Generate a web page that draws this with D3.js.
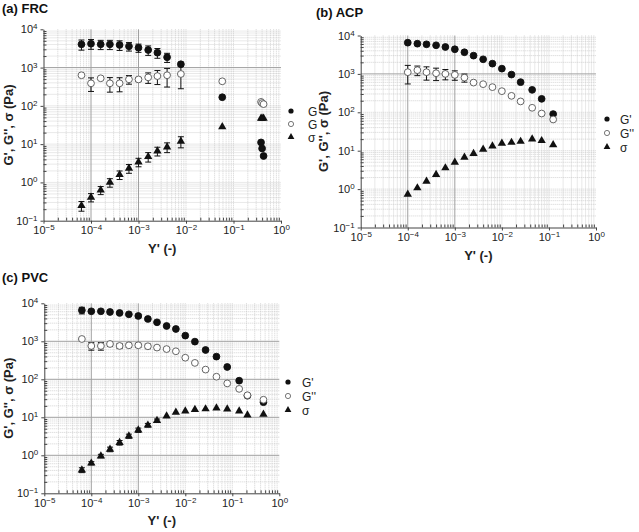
<!DOCTYPE html>
<html><head><meta charset="utf-8">
<script src="https://cdn.jsdelivr.net/npm/d3@7"></script>
<style>
body{margin:0;background:#fff}
svg{display:block;font-family:"Liberation Sans",Arial,sans-serif}
</style>
</head><body>
<svg id="chart" width="639" height="532"></svg>
<script>
// ---------- tick labels ----------
const xTickExps = [-5, -4, -3, -2, -1, 0];
const yTickExps = [-1, 0, 1, 2, 3, 4];
const seriesNames = ["G'", "G''", "σ"];
const seriesNamesClipped = ["G", "G", "σ"];

// ---------- (a) FRC ----------
const frcStrain    = [6.3e-5, 1e-4, 1.6e-4, 2.5e-4, 4e-4, 6.3e-4, 1e-3, 1.6e-3, 2.5e-3, 4e-3, 7.8e-3, 0.058, 0.38, 0.40, 0.43];
const frcGp        = [4050, 4200, 4050, 4050, 3900, 3600, 3300, 2880, 2450, 1860, 1220, 168, 11.1, 7.7, 4.9];
const frcGpErr     = [1200, 1200, 1100, 1100, 1100, 900, 800, 800, 700, 500, 150, 0, 0, 0, 0];
const frcGpp       = [630, 388, 525, 388, 388, 493, 490, 556, 600, 630, 680, 438, 127, 118, 111];
const frcGppErr    = [0, 150, 30, 160, 155, 125, 60, 170, 240, 320, 400, 0, 0, 0, 0];
const frcStress    = [0.247, 0.41, 0.63, 1.0, 1.59, 2.33, 3.41, 4.7, 6.6, 8.4, 11.8, 28.4, 47, 47, 47];
const frcStressErr = [0.07, 0.1, 0.15, 0.25, 0.4, 0.6, 0.85, 1.3, 1.7, 2.4, 3.8, 0, 0, 0, 0];

// ---------- (b) ACP ----------
const acpStrain    = [1e-4, 1.6e-4, 2.5e-4, 4e-4, 6.3e-4, 1e-3, 1.6e-3, 2.5e-3, 4e-3, 6.3e-3, 1e-2, 1.6e-2, 2.5e-2, 4.4e-2, 7e-2, 0.123];
const acpGp        = [6500, 6120, 5900, 5560, 5020, 4380, 3660, 2990, 2400, 1850, 1370, 960, 610, 384, 224, 90];
const acpGpErr     = [0, 0, 0, 0, 0, 0, 0, 0, 0, 0, 0, 0, 0, 0, 0, 0];
const acpGpp       = [1107, 1250, 1107, 1040, 1000, 942, 800, 594, 540, 452, 355, 268, 192, 131, 93, 65];
const acpGppErr    = [560, 350, 420, 370, 300, 260, 190, 0, 0, 0, 0, 0, 0, 0, 0, 0];
const acpStress    = [0.73, 1.07, 1.6, 2.38, 3.55, 4.97, 6.7, 8.4, 10.8, 13.2, 15.5, 16.4, 17.4, 20.1, 18.2, 14.3];
const acpStressErr = [0, 0, 0, 0, 0, 0, 0, 0, 0, 0, 0, 0, 0, 0, 0, 0];

// ---------- (c) PVC ----------
const pvcStrain    = [6.3e-5, 1e-4, 1.6e-4, 2.5e-4, 4e-4, 6.3e-4, 1e-3, 1.6e-3, 2.5e-3, 4e-3, 6.3e-3, 1e-2, 1.6e-2, 2.7e-2, 4.6e-2, 7.8e-2, 0.14, 0.21, 0.46];
const pvcGp        = [6550, 6160, 6160, 5910, 5570, 5130, 4640, 3870, 3160, 2530, 2110, 1410, 980, 591, 395, 211, 92, 37, 25];
const pvcGpErr     = [1300, 400, 300, 300, 300, 300, 500, 300, 0, 0, 0, 0, 0, 0, 0, 0, 0, 0, 0];
const pvcGpp       = [1150, 754, 754, 850, 754, 785, 785, 740, 684, 624, 546, 370, 270, 180, 117, 78, 56, 38, 29];
const pvcGppErr    = [80, 170, 170, 120, 110, 100, 100, 100, 80, 0, 0, 0, 0, 0, 0, 0, 0, 0, 0];
const pvcStress    = [0.41, 0.62, 0.96, 1.44, 2.15, 3.2, 4.6, 6.2, 8.2, 10.8, 13.5, 14.5, 16, 16.6, 17.5, 16.5, 14.5, 11.5, 12];
const pvcStressErr = [0.06, 0.06, 0.1, 0.2, 0.3, 0.4, 0.6, 0.7, 0.8, 0, 0, 0, 0, 0, 0, 0, 0, 0, 0];

const panels = [
  { title: "(a) FRC", titleX: 2, titleY: 13,
    x0: 43.5, x1: 281, y0: 29.3, y1: 220.7,
    ylabX: 13, legX: 291, legTextX: 308, legY: [111, 124, 137], legNames: seriesNamesClipped,
    majorH: [1e3], majorV: [1e-4, 1e-3],
    strain: frcStrain, gp: frcGp, gpE: frcGpErr, gpp: frcGpp, gppE: frcGppErr, s: frcStress, sE: frcStressErr },
  { title: "(b) ACP", titleX: 316, titleY: 17,
    x0: 360.7, x1: 596, y0: 35.5, y1: 227.5,
    ylabX: 328, legX: 607, legTextX: 620, legY: [119, 133, 147], legNames: seriesNames,
    majorH: [1e3], majorV: [1e-4, 1e-3],
    strain: acpStrain, gp: acpGp, gpE: acpGpErr, gpp: acpGpp, gppE: acpGppErr, s: acpStress, sE: acpStressErr },
  { title: "(c) PVC", titleX: 2, titleY: 282,
    x0: 44.3, x1: 279.3, y0: 303.3, y1: 493.3,
    ylabX: 13, legX: 288, legTextX: 302, legY: [382, 396, 410], legNames: seriesNames,
    majorH: [1e3, 1e2, 1e1, 1e0], majorV: [1e-4, 1e-3],
    strain: pvcStrain, gp: pvcGp, gpE: pvcGpErr, gpp: pvcGpp, gppE: pvcGppErr, s: pvcStress, sE: pvcStressErr }
];

const svg = d3.select("#chart");
const INK = "#111";

function minorVals(lo, hi) {
  const out = [];
  for (let k = lo; k < hi; k++) for (let m = 2; m <= 9; m++) out.push(m * Math.pow(10, k));
  return out;
}
function supLabel(sel, exp) {
  sel.text(null);
  sel.append("tspan").text("10");
  sel.append("tspan").attr("dy", "-0.5em").attr("font-size", "8px").text(exp < 0 ? "\u2212" + (-exp) : String(exp));
}

panels.forEach(p => {
  const x = d3.scaleLog().domain([1e-5, 1]).range([p.x0, p.x1]);
  const y = d3.scaleLog().domain([0.1, 1e4]).range([p.y1, p.y0]);
  const g = svg.append("g");

  const xMinor = minorVals(-5, 0);
  const yMinor = minorVals(-1, 4);
  const xMajorAll = xTickExps.map(e => Math.pow(10, e)).filter(v => v > 1e-5 && v < 1);
  const yMajorAll = yTickExps.map(e => Math.pow(10, e)).filter(v => v > 0.1 && v < 1e4);
  g.append("g").selectAll("line").data(xMinor.concat(xMajorAll.filter(v => !p.majorV.includes(v))))
    .join("line").attr("x1", d => x(d)).attr("x2", d => x(d)).attr("y1", p.y0).attr("y2", p.y1)
    .attr("stroke", "#c8c8c8").attr("stroke-width", 0.8).attr("stroke-dasharray", "1,1");
  g.append("g").selectAll("line").data(yMinor.concat(yMajorAll.filter(v => !p.majorH.includes(v))))
    .join("line").attr("y1", d => y(d)).attr("y2", d => y(d)).attr("x1", p.x0).attr("x2", p.x1)
    .attr("stroke", "#c8c8c8").attr("stroke-width", 0.8).attr("stroke-dasharray", "1,1");
  g.append("g").selectAll("line").data(p.majorV).join("line")
    .attr("x1", d => x(d)).attr("x2", d => x(d)).attr("y1", p.y0).attr("y2", p.y1)
    .attr("stroke", "#a0a0a0").attr("stroke-width", 1);
  g.append("g").selectAll("line").data(p.majorH).join("line")
    .attr("y1", d => y(d)).attr("y2", d => y(d)).attr("x1", p.x0).attr("x2", p.x1)
    .attr("stroke", "#a0a0a0").attr("stroke-width", 1);

  const xAxis = d3.axisBottom(x).tickValues(xTickExps.map(e => Math.pow(10, e))).tickSizeInner(3).tickSizeOuter(0).tickPadding(3);
  const gx = g.append("g").attr("transform", `translate(0,${p.y1})`).call(xAxis);
  gx.selectAll(".tick text").each(function (d) { supLabel(d3.select(this), Math.round(Math.log10(d))); })
    .attr("font-size", "11px").attr("font-family", "Liberation Sans, Arial, sans-serif").attr("fill", "#222");
  const xMinorAxis = d3.axisTop(x).tickValues(xMinor).tickSize(3).tickFormat("");
  g.append("g").attr("transform", `translate(0,${p.y1})`).call(xMinorAxis).call(s => s.select(".domain").remove());

  const yAxis = d3.axisLeft(y).tickValues(yTickExps.map(e => Math.pow(10, e))).tickSizeInner(3).tickSizeOuter(0).tickPadding(3);
  const gy = g.append("g").attr("transform", `translate(${p.x0},0)`).call(yAxis);
  gy.selectAll(".tick text").each(function (d) { supLabel(d3.select(this), Math.round(Math.log10(d))); })
    .attr("font-size", "11px").attr("font-family", "Liberation Sans, Arial, sans-serif").attr("fill", "#222");
  const yMinorAxis = d3.axisRight(y).tickValues(yMinor).tickSize(3).tickFormat("");
  g.append("g").attr("transform", `translate(${p.x0},0)`).call(yMinorAxis).call(s => s.select(".domain").remove());
  g.selectAll(".domain, .tick line").attr("stroke", "#444");

  g.append("text").attr("x", (p.x0 + p.x1) / 2).attr("y", p.y1 + 32).attr("text-anchor", "middle")
    .attr("font-weight", "bold").attr("font-size", "13px").attr("fill", "#222").text("Y' (-)");
  g.append("text").attr("transform", `translate(${p.ylabX},${(p.y0 + p.y1) / 2}) rotate(-90)`)
    .attr("text-anchor", "middle").attr("font-weight", "bold").attr("font-size", "13px").attr("fill", "#222")
    .text("G', G'', σ (Pa)");
  g.append("text").attr("x", p.titleX).attr("y", p.titleY).attr("font-weight", "bold").attr("font-size", "13px")
    .attr("fill", "#111").text(p.title);

  const series = [
    { v: p.gp, e: p.gpE, kind: "filled" },
    { v: p.gpp, e: p.gppE, kind: "open" },
    { v: p.s, e: p.sE, kind: "tri" }
  ];
  series.forEach(sr => {
    const pts = p.strain.map((st, i) => ({ st, v: sr.v[i], e: sr.e[i] }));
    const eb = g.append("g").attr("stroke", INK).attr("stroke-width", 1);
    pts.filter(d => d.e > 0).forEach(d => {
      const top = y(d.v + d.e), bot = y(Math.max(d.v - d.e, d.v * 0.05)), cx = x(d.st);
      eb.append("line").attr("x1", cx).attr("x2", cx).attr("y1", top).attr("y2", bot);
      eb.append("line").attr("x1", cx - 3).attr("x2", cx + 3).attr("y1", top).attr("y2", top);
      eb.append("line").attr("x1", cx - 3).attr("x2", cx + 3).attr("y1", bot).attr("y2", bot);
    });
    const mg = g.append("g");
    if (sr.kind === "tri") {
      mg.selectAll("path").data(pts).join("path")
        .attr("transform", d => `translate(${x(d.st)},${y(d.v)})`)
        .attr("d", d3.symbol(d3.symbolTriangle, 30)).attr("fill", INK);
    } else {
      mg.selectAll("circle").data(pts).join("circle")
        .attr("cx", d => x(d.st)).attr("cy", d => y(d.v)).attr("r", 3.4)
        .attr("fill", sr.kind === "filled" ? INK : "#fff")
        .attr("stroke", sr.kind === "filled" ? INK : "#555").attr("stroke-width", 0.9);
    }
  });

  const lg = g.append("g");
  p.legY.forEach((ly, i) => {
    if (i === 0) lg.append("circle").attr("cx", p.legX).attr("cy", ly).attr("r", 2.6).attr("fill", INK);
    if (i === 1) lg.append("circle").attr("cx", p.legX).attr("cy", ly).attr("r", 2.6).attr("fill", "#fff").attr("stroke", "#555").attr("stroke-width", 0.8);
    if (i === 2) lg.append("path").attr("transform", `translate(${p.legX},${ly})`).attr("d", d3.symbol(d3.symbolTriangle, 20)).attr("fill", INK);
    lg.append("text").attr("x", p.legTextX).attr("y", ly + 4.5).attr("font-size", "12px").attr("fill", "#222").text(p.legNames[i]);
  });
});
</script>
</body></html>
